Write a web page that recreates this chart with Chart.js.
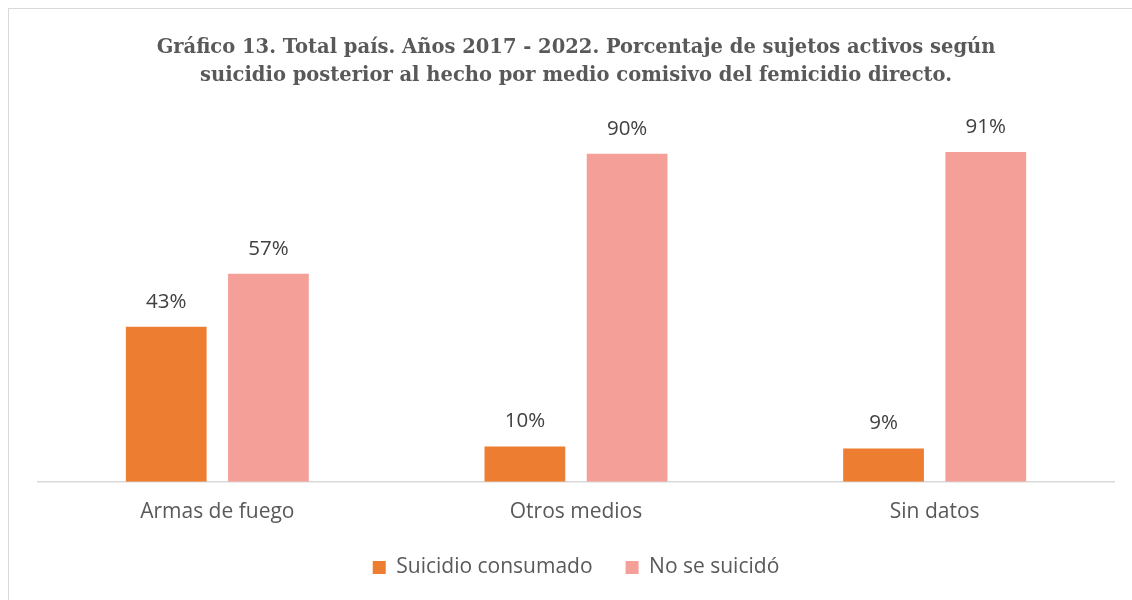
<!DOCTYPE html>
<html>
<head>
<meta charset="utf-8">
<script src="https://cdn.jsdelivr.net/npm/chart.js"></script>
<style>
  html, body { margin: 0; padding: 0; background: #fff; overflow: hidden; }
  #box { position: absolute; left: 8px; top: 8px; width: 1140px; height: 620px; border: 1px solid #d9d9d9; }
  #chart { display: block; }
</style>
</head>
<body>
<div id="box"><canvas id="chart" width="1139" height="579"></canvas></div>
<script>
// categories and series
const categories = ['Armas de fuego', 'Otros medios', 'Sin datos'];
const suicidioConsumado = [42.7, 9.7, 9.2];
const noSeSuicido = [57.3, 90.3, 90.8];
const titleLines = [
    'Gráfico 13. Total país. Años 2017 - 2022. Porcentaje de sujetos activos según',
    'suicidio posterior al hecho por medio comisivo del femicidio directo.'
];

const labelFont = '"Open Sans", sans-serif';

// draw the percentage above each bar
const barLabels = {
    id: 'barLabels',
    afterDatasetsDraw(chart) {
        const ctx = chart.ctx;
        ctx.save();
        ctx.font = '20.5px ' + labelFont;
        ctx.fillStyle = '#404040';
        ctx.textAlign = 'center';
        ctx.textBaseline = 'middle';
        chart.data.datasets.forEach((ds, i) => {
            chart.getDatasetMeta(i).data.forEach((bar, j) => {
                ctx.fillText(Math.round(ds.data[j]) + '%', bar.x, bar.y - 25);
            });
        });
        ctx.restore();
    }
};

new Chart(document.getElementById('chart'), {
    type: 'bar',
    data: {
        labels: categories,
        datasets: [{
            label: 'Suicidio consumado',
            data: suicidioConsumado,
            backgroundColor: '#ED7D31'
        }, {
            label: 'No se suicidó',
            data: noSeSuicido,
            backgroundColor: '#F4A099'
        }]
    },
    options: {
        responsive: false,
        animation: false,
        categoryPercentage: 0.57,
        barPercentage: 0.79,
        layout: {
            padding: { left: 29, right: 34, bottom: 0 }
        },
        scales: {
            x: {
                grid: { display: false, drawTicks: false },
                border: { color: '#d9d9d9', width: 1.5 },
                ticks: {
                    padding: 18,
                    color: '#595959',
                    font: { family: labelFont, size: 21 }
                },
                // pull the legend closer to the category labels
                afterFit: (scale) => { scale.height -= 19; }
            },
            y: {
                display: false,
                min: 0,
                max: 100
            }
        },
        plugins: {
            title: {
                display: true,
                text: titleLines,
                color: '#595959',
                font: { family: '"DejaVu Serif", serif', size: 19.5, weight: 'bold', lineHeight: 1.45 },
                padding: { top: 25, bottom: 28 }
            },
            legend: {
                position: 'bottom',
                labels: {
                    color: '#595959',
                    font: { family: labelFont, size: 21 },
                    boxWidth: 13,
                    boxHeight: 13,
                    padding: 33
                }
            },
            tooltip: { enabled: false }
        }
    },
    plugins: [barLabels]
});
</script>
</body>
</html>
